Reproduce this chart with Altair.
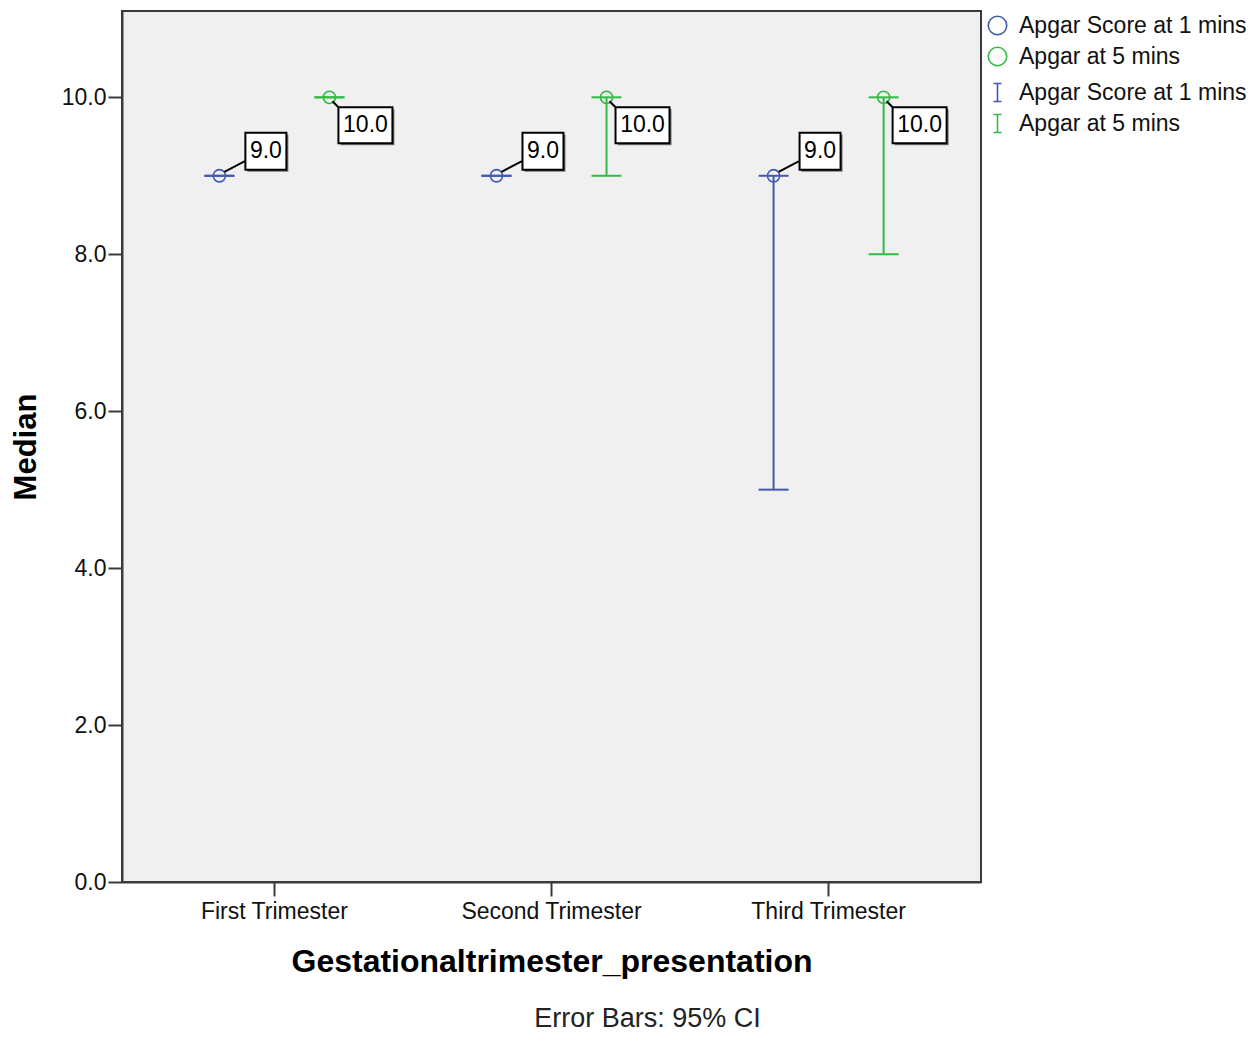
import altair as alt
import pandas as pd

trimesters = ["First Trimester", "Second Trimester", "Third Trimester"]
series = ["Apgar Score at 1 mins", "Apgar at 5 mins"]
colors = ["#4259B0", "#34BA47"]

median_1min = [9.0, 9.0, 9.0]
median_5min = [10.0, 10.0, 10.0]
ci_low_1min = [9.0, 9.0, 5.0]
ci_high_1min = [9.0, 9.0, 9.0]
ci_low_5min = [10.0, 9.0, 8.0]
ci_high_5min = [10.0, 10.0, 10.0]

y_ticks = [0, 2, 4, 6, 8, 10]

rows = []
for i, t in enumerate(trimesters):
    rows.append({"Trimester": t, "Series": series[0], "Median": median_1min[i],
                 "Lo": ci_low_1min[i], "Hi": ci_high_1min[i]})
    rows.append({"Trimester": t, "Series": series[1], "Median": median_5min[i],
                 "Lo": ci_low_5min[i], "Hi": ci_high_5min[i]})
df = pd.DataFrame(rows)
df["Bars"] = df["Series"]

FONT = "Liberation Sans"

x_enc = alt.X(
    "Trimester:N", sort=trimesters,
    scale=alt.Scale(paddingInner=0, paddingOuter=0.05),
    axis=alt.Axis(title="Gestationaltrimester_presentation", labelAngle=0,
                  labelPadding=4, titlePadding=23, bandPosition=0.5, labelLimit=0,
                  titleFontSize=32),
)
xo_enc = alt.XOffset("Series:N", sort=series,
                     scale=alt.Scale(domain=series, paddingInner=0, paddingOuter=0.259))
y_scale = alt.Scale(domain=[0, 11.1], nice=False, zero=True)
y_axis = alt.Axis(title="Median", values=y_ticks, format=".1f", labelPadding=2,
                  titlePadding=19)

base = alt.Chart(df)

bar_color = alt.Color(
    "Bars:N", sort=series,
    scale=alt.Scale(range=colors),
    legend=alt.Legend(title=None, orient="none", legendX=864, legendY=70,
                      symbolType="M-0.45,-1H0.45M0,-1V1M-0.45,1H0.45",
                      symbolSize=324, symbolStrokeWidth=1.6,
                      symbolFillColor="transparent", labelOffset=10, rowPadding=6,
                      padding=0),
)

rules = base.mark_rule(strokeWidth=2).encode(
    x=x_enc, xOffset=xo_enc,
    y=alt.Y("Lo:Q", scale=y_scale, axis=y_axis),
    y2="Hi:Q",
    color=bar_color,
)
ticks_lo = base.mark_tick(thickness=2, size=30, opacity=1).encode(
    x=x_enc, xOffset=xo_enc,
    y=alt.Y("Lo:Q", scale=y_scale, axis=y_axis),
    color=bar_color,
)
ticks_hi = base.mark_tick(thickness=2, size=30, opacity=1).encode(
    x=x_enc, xOffset=xo_enc,
    y=alt.Y("Hi:Q", scale=y_scale, axis=y_axis),
    color=bar_color,
)

points = base.mark_point(shape="circle", size=150, strokeWidth=1.6, filled=False,
                         opacity=1).encode(
    x=x_enc, xOffset=xo_enc,
    y=alt.Y("Median:Q", scale=y_scale, axis=y_axis),
    stroke=alt.Stroke(
        "Series:N", sort=series,
        scale=alt.Scale(range=colors),
        legend=alt.Legend(title=None, orient="none", legendX=864, legendY=3,
                          symbolType="circle", symbolSize=340, symbolStrokeWidth=1.6,
                          symbolFillColor="transparent", labelOffset=10, rowPadding=6,
                          padding=0),
    ),
)

# label callouts: (shadow path, box+connector path, text dx, text dy)
label_styles = [
    ("M28,-41H69V-4H28Z", "M5,-4L26,-15M26,-43H67V-6H26Z", 46.5, -24.5),
    ("M11,12H65V48H11Z", "M3,4L9,10M9,10H63V46H9Z", 36, 28),
]

label_layers = []
for s, (shadow_path, box_path, tdx, tdy) in zip(series, label_styles):
    sub = base.transform_filter(alt.datum.Series == s)
    enc = dict(x=x_enc, xOffset=xo_enc,
               y=alt.Y("Median:Q", scale=y_scale, axis=y_axis))
    shadow = sub.mark_point(shape=shadow_path, size=4, filled=True, fill="#777777",
                            strokeWidth=0, opacity=1).encode(**enc)
    box = sub.mark_point(shape=box_path, size=4, filled=True, fill="white",
                         stroke="black", strokeWidth=2, opacity=1).encode(**enc)
    txt = sub.mark_text(dx=tdx, dy=tdy, align="center", baseline="middle",
                        font=FONT, fontSize=23, color="black").encode(
        text=alt.Text("Median:Q", format=".1f"), **enc)
    label_layers += [shadow, box, txt]

chart = alt.layer(rules, ticks_lo, ticks_hi, points, *label_layers).properties(
    width=859, height=871,
    autosize=alt.AutoSizeParams(type="none"),
    padding={"left": 114, "top": 3, "right": 270, "bottom": 150},
    title=alt.Title("Error Bars: 95% CI", orient="bottom", anchor="middle",
                    frame="group", dx=96, offset=29, font=FONT, fontSize=27,
                    fontWeight="normal", color="#222222"),
).configure_view(
    fill="#F0F0F0", stroke="#3a3a3a", strokeWidth=2,
).configure_axis(
    grid=False, domainColor="#3a3a3a", domainWidth=2, tickColor="#3a3a3a",
    tickWidth=2, tickSize=14, labelFont=FONT, labelFontSize=23, labelColor="#111111",
    titleFont=FONT, titleFontSize=31, titleFontWeight="bold", titleColor="black",
).configure_legend(
    labelFont=FONT, labelFontSize=23, labelColor="#111111", labelLimit=0,
)

chart.save("out.html", embed_options={"renderer": "svg", "actions": False})
